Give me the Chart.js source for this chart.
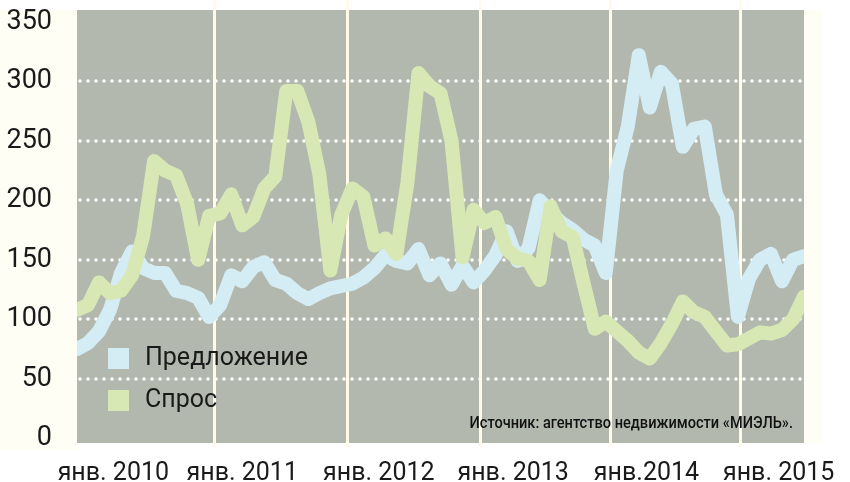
<!DOCTYPE html>
<html>
<head>
<meta charset="utf-8">
<script src="https://cdn.jsdelivr.net/npm/chart.js@4/dist/chart.umd.min.js"></script>
<style>
  html, body { margin: 0; padding: 0; background: #ffffff; }
  #wrap { width: 850px; height: 482px; }
</style>
</head>
<body>
<div id="wrap"><canvas id="chart" width="850" height="482"></canvas></div>
<script>
// monthly values, Jan 2010 .. Jul 2015
const supply = [75, 80, 90, 108, 139, 157, 143, 139, 139, 124, 122, 118,
    102, 112, 137, 132, 144, 148, 133, 130, 122, 117, 122, 126,
    128, 130, 135, 143, 154, 149, 147, 159, 137, 147, 129, 145,
    131, 141, 154, 174, 149, 160, 200, 190, 181, 175, 167, 162,
    139, 225, 262, 322, 278, 308, 298, 245, 260, 262, 205, 188,
    102, 134, 150, 155, 132, 150, 153];
const demand = [108, 112, 131, 122, 124, 137, 170, 233, 225, 221, 197, 150,
    187, 189, 205, 179, 186, 210, 220, 292, 292, 266, 222, 141,
    188, 210, 203, 162, 168, 155, 215, 307, 296, 290, 250, 152,
    192, 181, 186, 159, 151, 149, 133, 195, 174, 169, 130, 92,
    98, 90, 82, 72, 67, 80, 96, 115, 106, 102, 90, 78,
    79, 84, 89, 88, 91, 100, 119];

const seriesNames = ['Предложение', 'Спрос'];
const yTicks = [0, 50, 100, 150, 200, 250, 300, 350];
const gridVals = [50, 100, 150, 200, 250, 300];
const yearLabels = ['янв. 2010', 'янв. 2011', 'янв. 2012', 'янв. 2013', 'янв.2014', 'янв. 2015'];
const labelPos = [3.3, 15, 27.4, 39.6, 51.7, 63.7];   // label centres, in months
const janPos = [12.4, 24.5, 36.6, 48.4, 60.2];        // year divider lines
const sourceText = 'Источник: агентство недвижимости «МИЭЛЬ».';

const BLUE = '#d4ecf3';
const GREEN = '#d8e8b4';
const CREAM = '#fffef4';

const backdrop = {
    id: 'backdrop',
    beforeDraw(chart) {
        const { ctx, chartArea: a } = chart;
        ctx.save();
        ctx.fillStyle = CREAM;
        ctx.fillRect(0, a.top, a.left, a.bottom - a.top + 7);
        ctx.fillRect(a.right, a.top, 18, a.bottom - a.top);
        ctx.fillStyle = '#b2b8ae';
        ctx.fillRect(a.left, a.top, a.right - a.left, a.bottom - a.top);
        ctx.restore();
    },
    beforeDatasetsDraw(chart) {
        const { ctx, chartArea: a } = chart;
        const y = chart.scales.y, x = chart.scales.x;
        ctx.save();
        // dotted grid
        ctx.strokeStyle = '#ffffff';
        ctx.lineWidth = 3.5;
        ctx.lineCap = 'round';
        ctx.setLineDash([0, 8]);
        gridVals.forEach(v => {
            const py = Math.round(y.getPixelForValue(v));
            ctx.beginPath();
            ctx.moveTo(a.left + 3, py);
            ctx.lineTo(a.right, py);
            ctx.stroke();
        });
        // january dividers
        ctx.setLineDash([]);
        ctx.lineCap = 'butt';
        ctx.strokeStyle = '#fffbe8';
        ctx.lineWidth = 3;
        janPos.forEach(v => {
            const px = Math.round(x.getPixelForValue(v)) + 0.5;
            ctx.beginPath();
            ctx.moveTo(px, 0);
            ctx.lineTo(px, a.bottom + 4);
            ctx.stroke();
        });
        ctx.restore();
    },
    afterDatasetsDraw(chart) {
        const { ctx, chartArea: a } = chart;
        ctx.save();
        // legend
        chart.data.datasets.forEach((ds, i) => {
            const top = a.bottom - 95 + i * 42;
            ctx.fillStyle = ds.borderColor;
            ctx.fillRect(a.left + 31, top, 21, 21);
            ctx.fillStyle = '#1a1a1a';
            ctx.font = '400 25px Roboto';
            ctx.textBaseline = 'middle';
            ctx.textAlign = 'left';
            ctx.fillText(ds.label, a.left + 68, top + 11);
        });
        // source, squeezed like a condensed face
        ctx.font = '500 16px "Liberation Sans Narrow", "Roboto"';
        ctx.textAlign = 'right';
        ctx.textBaseline = 'alphabetic';
        ctx.fillStyle = '#111111';
        ctx.fillText(sourceText, a.right - 11, a.bottom - 15, (a.right - a.left) * 0.445);
        ctx.restore();
    }
};

new Chart(document.getElementById('chart'), {
    type: 'line',
    data: {
        datasets: [
            {
                label: seriesNames[0],
                data: supply.map((v, i) => ({ x: i, y: v })),
                borderColor: BLUE,
                order: 1
            },
            {
                label: seriesNames[1],
                data: demand.map((v, i) => ({ x: i, y: v })),
                borderColor: GREEN,
                order: 0
            }
        ]
    },
    options: {
        responsive: false,
        animation: false,
        clip: 0,
        layout: { padding: { top: 10, right: 46, left: 0, bottom: 0 } },
        elements: {
            line: { borderWidth: 14, tension: 0, borderJoinStyle: 'round', borderCapStyle: 'round' },
            point: { radius: 0 }
        },
        plugins: {
            legend: { display: false },
            tooltip: { enabled: false }
        },
        scales: {
            x: {
                type: 'linear',
                min: 0,
                max: 66,
                grid: { display: false },
                border: { display: false },
                afterBuildTicks: axis => { axis.ticks = labelPos.map(v => ({ value: v })); },
                afterFit: axis => {
                    axis.height = 39;
                    axis.paddingLeft = 0;
                    axis.paddingRight = 0;
                },
                ticks: {
                    autoSkip: false,
                    maxRotation: 0,
                    padding: 8,
                    color: '#1a1a1a',
                    font: { family: 'Roboto', size: 25 },
                    callback: (v, i) => yearLabels[i]
                }
            },
            y: {
                min: -4,
                max: 360,
                grid: { display: false },
                border: { display: false },
                afterBuildTicks: axis => { axis.ticks = yTicks.map(v => ({ value: v })); },
                afterFit: axis => {
                    axis.width = 77;
                    axis.paddingTop = 0;
                    axis.paddingBottom = 0;
                },
                ticks: {
                    padding: 17,
                    color: '#1a1a1a',
                    font: { family: 'Roboto', size: 27 }
                }
            }
        }
    },
    plugins: [backdrop]
});
</script>
</body>
</html>
